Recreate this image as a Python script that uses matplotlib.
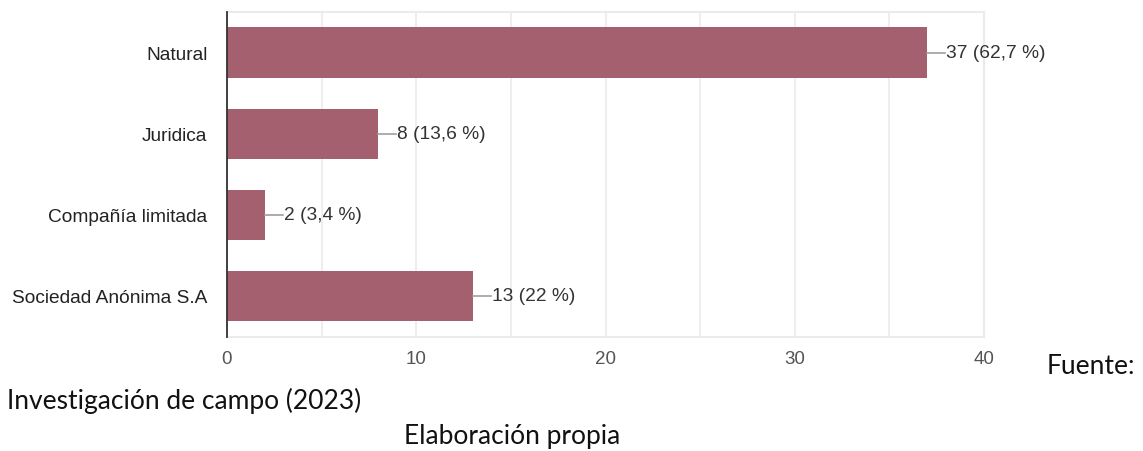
import matplotlib
matplotlib.use("Agg")
import matplotlib.pyplot as plt
from matplotlib.ticker import MultipleLocator

categories = ["Natural", "Juridica", "Compañía limitada", "Sociedad Anónima S.A"]
counts = [37, 8, 2, 13]
percent_labels = ["62,7 %", "13,6 %", "3,4 %", "22 %"]
x_ticks = [0, 10, 20, 30, 40]

W, H = 1143, 452
fig = plt.figure(figsize=(W / 100, H / 100), dpi=100)
ax = fig.add_axes([227 / W, 1 - 337.5 / H, (984 - 227) / W, (337.5 - 13) / H])

bar_color = "#a5606f"
grid_color = "#ebebeb"
text_color = "#333333"

y = list(range(len(categories)))
ax.barh(y, counts, height=0.62, color=bar_color, zorder=3)
ax.set_ylim(3.5, -0.5)
ax.set_xlim(0, 40)

ax.set_yticks(y)
ax.set_yticklabels(categories, fontsize=13.8, color="#222222", family="Liberation Sans")
ax.set_xticks(x_ticks)
ax.set_xticklabels([str(v) for v in x_ticks], fontsize=13.5, color="#555555", family="Liberation Sans")
ax.xaxis.set_minor_locator(MultipleLocator(5))
ax.tick_params(axis="both", which="both", length=0)
ax.tick_params(axis="y", pad=14)
ax.tick_params(axis="x", pad=10)

ax.grid(axis="x", which="both", color=grid_color, linewidth=1.2, zorder=0)
for side in ("top", "right", "bottom"):
    ax.spines[side].set_color(grid_color)
    ax.spines[side].set_linewidth(1.5)
ax.spines["left"].set_color(text_color)
ax.spines["left"].set_linewidth(1.3)
ax.spines["left"].set_zorder(4)

# value labels with short connector lines
px_per_unit = (984 - 227) / 40
for yi, c, p in zip(y, counts, percent_labels):
    ax.plot([c, c + 18 / px_per_unit], [yi, yi], color="#9e9e9e", linewidth=1.2, zorder=3)
    ax.text(c + 19 / px_per_unit, yi, f"{c} ({p})", va="center", ha="left",
            fontsize=13.8, color=text_color, family="Liberation Sans")

cap = dict(fontsize=19, color="#111111", family="Lato")
fig.text(1047 / W, 1 - 366 / H, "Fuente:", ha="left", va="center", **cap)
fig.text(7 / W, 1 - 401 / H, "Investigación de campo (2023)", ha="left", va="center", **cap)
fig.text(404 / W, 1 - 437 / H, "Elaboración propia", ha="left", va="center", **cap)

fig.savefig("out.png", dpi=100)
